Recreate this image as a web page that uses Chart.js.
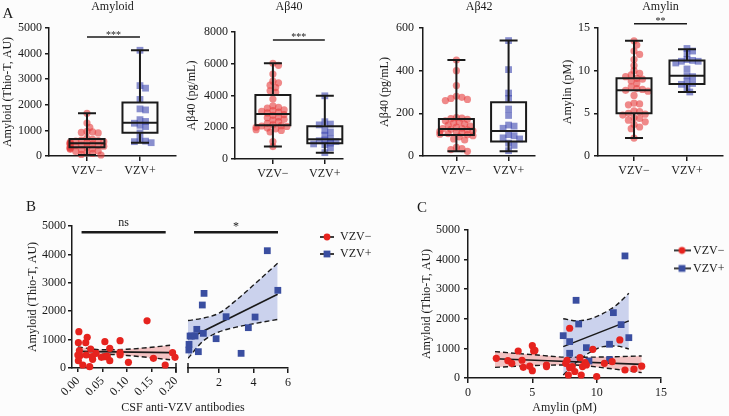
<!DOCTYPE html>
<html>
<head>
<meta charset="utf-8">
<title>VZV amyloid figure</title>
<script src="https://cdn.jsdelivr.net/npm/chart.js@4.4.1/dist/chart.umd.min.js"></script>
<style>
  body { margin: 0; background: #fcfcfc; }
  #fig { position: relative; width: 729px; height: 416px; overflow: hidden; }
  #fig canvas { position: absolute; }
</style>
</head>
<body>
<div id="fig">
  <canvas id="a1" width="182" height="190" style="left:0;top:0"></canvas>
  <canvas id="a2" width="178" height="190" style="left:182px;top:0"></canvas>
  <canvas id="a3" width="180" height="190" style="left:360px;top:0"></canvas>
  <canvas id="a4" width="189" height="190" style="left:540px;top:0"></canvas>
  <canvas id="bLeft" width="300" height="221" style="left:0;top:195px"></canvas>
  <canvas id="bRight" width="193" height="221" style="left:182px;top:195px"></canvas>
  <canvas id="c" width="329" height="221" style="left:400px;top:195px"></canvas>
</div>
<script>
const groups = ['VZV−', 'VZV+'];

// --- Panel A: individual values
const amyloidNeg = [1670, 1290, 1120, 960, 940, 920, 900, 700, 650, 620, 600, 580, 560, 540, 520, 500, 480, 470, 450, 430, 410, 400, 380, 360, 340, 320, 300, 280, 260, 240, 200, 180, 130, 100, 60, 40];
const amyloidPos = [4130, 2750, 2650, 2210, 1840, 1800, 1420, 1350, 1280, 1200, 1150, 900, 640, 580, 560, 520];
const abeta40Neg = [6030, 5900, 5350, 4900, 4800, 4650, 4500, 4300, 4200, 3780, 3350, 3250, 3200, 3100, 3050, 3000, 2950, 2900, 2800, 2750, 2650, 2600, 2500, 2450, 2350, 2250, 2150, 2100, 2080, 2050, 2000, 1950, 1900, 1850, 1800, 1700, 1100, 780];
const abeta40Pos = [3980, 2350, 2200, 2150, 1800, 1700, 1500, 1300, 1200, 1150, 1100, 1000, 950, 900, 700, 400];
const abeta42Neg = [450, 400, 330, 280, 275, 270, 265, 260, 180, 178, 175, 172, 165, 160, 155, 150, 145, 140, 135, 130, 128, 125, 122, 118, 115, 110, 108, 105, 102, 100, 95, 90, 80, 75, 40, 35, 30, 22];
const abeta42Pos = [541, 405, 295, 270, 220, 190, 145, 140, 130, 100, 95, 85, 80, 60, 50, 25];
const amylinNeg = [13.5, 13.0, 12.3, 11.9, 11.3, 10.6, 10.0, 9.7, 9.5, 9.3, 9.1, 9.0, 8.8, 8.5, 8.1, 7.9, 7.8, 7.7, 7.6, 7.1, 6.2, 6.1, 6.0, 5.3, 5.2, 5.0, 4.9, 4.8, 4.5, 4.4, 4.2, 4.0, 3.7, 3.4, 3.2, 2.1];
const amylinPos = [12.6, 12.3, 12.0, 11.3, 11.2, 11.1, 11.1, 10.9, 10.2, 9.4, 9.3, 8.7, 8.5, 8.4, 8.0, 7.5];

// box summaries: min, q1, median, q3, max
const amyloidBoxNeg = [40, 340, 495, 660, 1670];
const amyloidBoxPos = [520, 910, 1300, 2090, 4130];
const abeta40BoxNeg = [780, 2120, 2830, 4030, 6030];
const abeta40BoxPos = [400, 990, 1240, 2060, 3980];
const abeta42BoxNeg = [22, 98, 127, 173, 450];
const abeta42BoxPos = [22, 68, 117, 252, 541];
const amylinBoxNeg = [2.1, 5.0, 7.7, 9.1, 13.5];
const amylinBoxPos = [7.5, 8.45, 9.4, 11.2, 12.5];

const sigALevels = [4650, 7500, null, 15.5];
const sigAMarks = ['***', '***', null, '**'];

// --- Panel B: CSF anti-VZV antibodies vs amyloid
const bTicksLeft = [0, 0.05, 0.10, 0.15, 0.20];
const bTicksRight = [2, 4, 6];
const bNegX = [0.001, 0.002, 0.000, 0.003, 0.004, 0.001, 0.010, 0.016, 0.019, 0.017, 0.026, 0.024, 0.030, 0.029, 0.037, 0.048, 0.055, 0.055, 0.060, 0.065, 0.065, 0.086, 0.086, 0.086, 0.103, 0.141, 0.154, 0.178, 0.193, 0.198];
const bNegY = [891, 1278, 458, 610, 435, 258, 105, 891, 1080, 458, 669, 47, 305, 400, 516, 376, 927, 400, 422, 692, 258, 962, 540, 458, 200, 1660, 340, 105, 540, 376];
const bPosX = [0.25, 0.26, 0.32, 0.40, 0.61, 0.71, 0.80, 1.03, 1.09, 1.13, 1.83, 2.41, 3.28, 3.70, 4.09, 4.80, 5.41];
const bPosY = [634, 834, 1126, 1126, 1126, 1361, 575, 2218, 1220, 2628, 1032, 1806, 516, 1420, 1795, 4130, 2735];
const bNegFitX = [0, 0.188];
const bNegFitY = [585, 540];
const bNegBandX = [0, 0.05, 0.10, 0.15, 0.188];
const bNegUpper = [740, 640, 660, 730, 800];
const bNegLower = [420, 490, 440, 360, 290];
const bPosFitX = [0.2, 5.4];
const bPosFitY = [1030, 2600];
const bPosBandX = [0.2, 1.1, 2.0, 3.0, 4.2, 5.4];
const bPosUpper = [1670, 1760, 1930, 2390, 3030, 3690];
const bPosLower = [340, 960, 1270, 1440, 1580, 1710];
const sigBLevel = 4780;
const sigBMarks = ['ns', '*'];
const sigBSpanLeft = [0.0075, 0.179];
const sigBSpanRight = [0.55, 5.42];

// --- Panel C: amylin vs amyloid
const cNegX = [2.2, 3.1, 3.4, 3.9, 4.2, 4.3, 4.8, 5.0, 5.0, 5.1, 5.2, 6.1, 6.1, 7.6, 7.7, 7.8, 7.9, 7.9, 8.1, 8.3, 8.7, 8.8, 8.9, 9.1, 9.2, 9.7, 10.0, 10.6, 11.2, 11.8, 12.2, 12.9, 13.5];
const cNegY = [665, 585, 496, 913, 600, 360, 400, 248, 1093, 913, 930, 440, 385, 496, 600, 101, 350, 1680, 385, 220, 687, 101, 385, 520, 440, 970, 50, 496, 550, 1285, 270, 300, 400];
const cPosX = [7.4, 7.9, 7.9, 8.4, 8.6, 9.2, 9.4, 11.0, 11.0, 11.3, 11.9, 12.2, 12.5];
const cPosY = [1430, 1230, 835, 2625, 1825, 1025, 574, 1140, 620, 2208, 1803, 4124, 1363];
const cNegFitX = [2.1, 13.5];
const cNegFitY = [650, 460];
const cNegBandX = [2.1, 5, 8, 11, 13.5];
const cNegUpper = [890, 790, 700, 715, 745];
const cNegLower = [360, 420, 440, 320, 180];
const cPosFitX = [7.4, 12.5];
const cPosFitY = [1060, 1930];
const cPosBandX = [7.4, 8.5, 9.5, 10.5, 11.5, 12.5];
const cPosUpper = [2000, 1930, 2000, 2180, 2450, 2860];
const cPosLower = [100, 560, 870, 1060, 1080, 980];

// --- styles
const INK = '#1a1a1a';
const FONT = "'Liberation Serif', 'Times New Roman', serif";
const RED_A = 'rgba(230, 60, 60, 0.6)';
const BLUE_A = 'rgba(60, 70, 175, 0.6)';
const RED = 'rgb(230, 35, 30)';
const BLUE = 'rgb(58, 78, 160)';
const RED_BAND = 'rgba(228, 100, 100, 0.38)';
const BLUE_BAND = 'rgba(100, 120, 205, 0.32)';

Chart.defaults.font.family = FONT;
Chart.defaults.font.size = 12;
Chart.defaults.color = INK;
Chart.defaults.animation = false;
Chart.defaults.plugins.legend.display = false;
Chart.defaults.plugins.tooltip.enabled = false;

const xy = (xs, ys) => xs.map((x, i) => ({ x: x, y: ys[i] }));

// spread the dots of a group sideways so they don't sit on each other
function swarm(values, center, pxPerY, pxPerX) {
  const placed = [];
  return values.map(v => {
    const py = v * pxPerY;
    let off = 0;
    for (let k = 0; k < 13; k++) {
      const cand = (k % 2 ? 1 : -1) * Math.ceil(k / 2) * 2.8;
      off = cand;
      if (placed.every(p => Math.hypot(p[0] - cand, p[1] - py) > 4.6)) break;
    }
    placed.push([off, py]);
    return { x: center + off / pxPerX, y: v };
  });
}

function legendIcon(w, color, shape) {
  const c = document.createElement('canvas');
  c.width = w; c.height = 10;
  const g = c.getContext('2d');
  g.strokeStyle = INK; g.lineWidth = 1.7;
  g.beginPath(); g.moveTo(0, 5); g.lineTo(w, 5); g.stroke();
  g.fillStyle = color;
  if (shape === 'circle') { g.beginPath(); g.arc(w / 2, 5, 3.4, 0, Math.PI * 2); g.fill(); }
  else g.fillRect(w / 2 - 3.4, 1.6, 6.8, 6.8);
  return c;
}

function legendLabels(iconW) {
  return () => groups.map((g, i) => ({
    text: g,
    pointStyle: legendIcon(iconW, i === 0 ? RED : BLUE, i === 0 ? 'circle' : 'square'),
    fillStyle: 'transparent', strokeStyle: 'transparent', lineWidth: 0,
    hidden: false, datasetIndex: i, fontColor: INK
  }));
}

// boxes, significance bars, axis breaks and free labels
function overlay(cfg) {
  return {
    id: 'overlay',
    afterDatasetsDraw(chart) {
      const { ctx, scales: { x, y } } = chart;
      ctx.save();
      ctx.strokeStyle = INK;
      ctx.lineWidth = 2;
      (cfg.boxes || []).forEach(b => {
        const cx = x.getPixelForValue(b.at);
        const [lo, q1, md, q3, hi] = b.stats.map(v => y.getPixelForValue(v));
        ctx.beginPath();
        ctx.moveTo(cx, hi); ctx.lineTo(cx, q3);
        ctx.moveTo(cx, q1); ctx.lineTo(cx, lo);
        ctx.moveTo(cx - 9, hi); ctx.lineTo(cx + 9, hi);
        ctx.moveTo(cx - 9, lo); ctx.lineTo(cx + 9, lo);
        ctx.moveTo(cx - 17.5, md); ctx.lineTo(cx + 17.5, md);
        ctx.rect(cx - 17.5, q3, 35, q1 - q3);
        ctx.stroke();
      });
      ctx.restore();
    },
    afterDraw(chart) {
      const { ctx, scales: { x, y } } = chart;
      ctx.save();
      ctx.strokeStyle = INK;
      ctx.fillStyle = INK;
      (cfg.sig || []).forEach(s => {
        const py = y.getPixelForValue(s.y);
        const x1 = x.getPixelForValue(s.x1), x2 = x.getPixelForValue(s.x2);
        ctx.lineWidth = s.lw || 1.5;
        ctx.beginPath(); ctx.moveTo(x1, py); ctx.lineTo(x2, py); ctx.stroke();
        ctx.font = s.font || '10px ' + FONT;
        ctx.textAlign = 'center';
        ctx.textBaseline = 'alphabetic';
        ctx.fillText(s.text, (x1 + x2) / 2, py + (s.dy || 0));
      });
      (cfg.breaks || []).forEach(v => {
        const px = x.getPixelForValue(v);
        ctx.lineWidth = 1.5;
        ctx.beginPath(); ctx.moveTo(px, y.bottom - 5); ctx.lineTo(px, y.bottom + 5); ctx.stroke();
      });
      (cfg.labels || []).forEach(t => {
        ctx.font = t.font || '15px ' + FONT;
        ctx.textAlign = 'center';
        ctx.textBaseline = 'middle';
        ctx.fillText(t.text, t.x, t.y);
      });
      ctx.restore();
    }
  };
}

function valueAxis(o) {
  return {
    type: 'linear', position: 'left', min: 0, max: o.max,
    afterFit: s => { s.width = o.width; },
    border: { display: true, color: INK, width: 1.5 },
    grid: { drawOnChartArea: false, color: INK, lineWidth: 1.5, tickLength: 4 },
    ticks: { stepSize: o.step, padding: o.tickPad, color: INK, callback: v => String(v) },
    title: { display: true, text: o.title, color: INK, padding: { top: o.titlePad, bottom: 0 } }
  };
}

function bottomAxis(o) {
  return {
    type: 'linear', min: o.min, max: o.max,
    afterBuildTicks: s => { s.ticks = o.ticks.map(v => ({ value: v })); },
    afterFit: s => { s.height = o.height; },
    border: { display: true, color: INK, width: 1.5 },
    grid: { drawOnChartArea: false, color: INK, lineWidth: 1.5, tickLength: o.tickLength || 5 },
    ticks: { callback: o.label, padding: o.pad || 3, autoSkip: false, minRotation: o.rot || 0, maxRotation: o.rot || 0, color: INK },
    title: o.title ? { display: true, text: o.title, color: INK, padding: 0 } : { display: false }
  };
}

function curve(xs, ys, extra) {
  return Object.assign({
    type: 'line', data: xy(xs, ys),
    borderColor: INK, borderWidth: 1.4, borderDash: [5, 3], pointRadius: 0, fill: false,
    cubicInterpolationMode: 'monotone', order: 2
  }, extra);
}

// ---------- Panel A
const H_A = 190;
const panelA = [
  { id: 'a1', title: 'Amyloid', yTitle: 'Amyloid (Thio-T, AU)', neg: amyloidNeg, pos: amyloidPos, boxNeg: amyloidBoxNeg, boxPos: amyloidBoxPos, yMax: 5000, yStep: 1000, sigDy: 1,
    geo: { W: 182, yW: 49, padR: 6, top: 28, xH: 34, xMin: 0.283, xMax: 2.68, titlePad: 1, tickPad: 3 } },
  { id: 'a2', title: 'Aβ40', yTitle: 'Aβ40 (pg/mL)', neg: abeta40Neg, pos: abeta40Pos, boxNeg: abeta40BoxNeg, boxPos: abeta40BoxPos, yMax: 8000, yStep: 2000, sigDy: 0,
    geo: { W: 178, yW: 53, padR: 17, top: 32, xH: 31, xMin: 0.27, xMax: 2.35, titlePad: 2.5, tickPad: 3 } },
  { id: 'a3', title: 'Aβ42', yTitle: 'Aβ40 (pg/mL)', neg: abeta42Neg, pos: abeta42Pos, boxNeg: abeta42BoxNeg, boxPos: abeta42BoxPos, yMax: 600, yStep: 200, sigDy: 0,
    geo: { W: 180, yW: 63, padR: 3, top: 28, xH: 34, xMin: 0.36, xMax: 2.51, titlePad: 18, tickPad: 5 } },
  { id: 'a4', title: 'Amylin', yTitle: 'Amylin (pM)', neg: amylinNeg, pos: amylinPos, boxNeg: amylinBoxNeg, boxPos: amylinBoxPos, yMax: 15, yStep: 5, sigDy: 0,
    geo: { W: 189, yW: 58, padR: 6, top: 28, xH: 34, xMin: 0.32, xMax: 2.68, titlePad: 21, tickPad: 4 } }
];

panelA.forEach((p, i) => {
  const g = p.geo;
  const pxY = (H_A - g.top - g.xH) / p.yMax;
  const pxX = (g.W - g.padR - g.yW) / (g.xMax - g.xMin);
  const sig = sigALevels[i] === null ? [] : [{ x1: 1, x2: 2, y: sigALevels[i], text: sigAMarks[i], dy: p.sigDy }];
  new Chart(document.getElementById(p.id), {
    type: 'scatter',
    data: {
      datasets: [
        { data: swarm(p.neg, 1, pxY, pxX), pointStyle: 'circle', pointRadius: 3.6, backgroundColor: RED_A, borderWidth: 0, clip: false },
        { data: swarm(p.pos, 2, pxY, pxX), pointStyle: 'rect', pointRadius: 4.8, backgroundColor: BLUE_A, borderWidth: 0, clip: false }
      ]
    },
    options: {
      responsive: false, devicePixelRatio: 1, events: [],
      layout: { padding: { left: 0, top: 0, right: g.padR, bottom: 0 } },
      scales: {
        x: bottomAxis({ min: g.xMin, max: g.xMax, ticks: groups.map((_, k) => k + 1), label: v => groups[v - 1], height: g.xH }),
        y: valueAxis({ max: p.yMax, step: p.yStep, title: p.yTitle, width: g.yW, titlePad: g.titlePad, tickPad: g.tickPad })
      },
      plugins: {
        title: { display: true, text: p.title, fullSize: false, color: INK, font: { size: 12, weight: 'normal' }, padding: { top: 0, bottom: g.top - 14.4 } }
      }
    },
    plugins: [overlay({
      boxes: [{ at: 1, stats: p.boxNeg }, { at: 2, stats: p.boxPos }],
      sig: sig,
      labels: i === 0 ? [{ text: 'A', x: 8, y: 14 }] : []
    })]
  });
});

// ---------- Panel B (split x axis: two charts side by side)
new Chart(document.getElementById('bLeft'), {
  type: 'scatter',
  data: {
    datasets: [
      { data: xy(bNegX, bNegY), pointStyle: 'circle', pointRadius: 3.6, backgroundColor: RED, borderWidth: 0, clip: false, order: 0 },
      curve(bNegBandX, bNegLower),
      curve(bNegBandX, bNegUpper, { fill: '-1', backgroundColor: RED_BAND }),
      curve(bNegFitX, bNegFitY, { borderDash: [], borderWidth: 1.6, order: 1 })
    ]
  },
  options: {
    responsive: false, devicePixelRatio: 1, events: [],
    layout: { padding: { left: 0, top: 31, right: 124, bottom: 0 } },
    scales: {
      x: bottomAxis({ min: -0.012, max: 0.2, ticks: bTicksLeft, label: v => v.toFixed(2), height: 48, rot: 45, pad: 2, tickLength: 4 }),
      y: valueAxis({ max: 5000, step: 1000, title: 'Amyloid (Thio-T, AU)', width: 72, titlePad: 26, tickPad: 2 })
    }
  },
  plugins: [overlay({
    sig: [{ x1: sigBSpanLeft[0], x2: sigBSpanLeft[1], y: sigBLevel, text: sigBMarks[0], lw: 2.6, font: '12px ' + FONT, dy: -6 }],
    breaks: [0.2],
    labels: [
      { text: 'B', x: 31, y: 12 },
      { text: 'CSF anti-VZV antibodies', x: 183, y: 213, font: '12px ' + FONT }
    ]
  })]
});

new Chart(document.getElementById('bRight'), {
  type: 'scatter',
  data: {
    datasets: [
      { data: xy(bPosX, bPosY), pointStyle: 'rect', pointRadius: 4.8, backgroundColor: BLUE, borderWidth: 0, clip: false, order: 0 },
      curve(bPosBandX, bPosLower),
      curve(bPosBandX, bPosUpper, { fill: '-1', backgroundColor: BLUE_BAND }),
      curve(bPosFitX, bPosFitY, { borderDash: [], borderWidth: 1.6, order: 1 })
    ]
  },
  options: {
    responsive: false, devicePixelRatio: 1, events: [],
    layout: { padding: { left: 6, top: 31, right: 0, bottom: 0 } },
    scales: {
      x: bottomAxis({ min: 0.2, max: 6, ticks: bTicksRight, label: v => String(v), height: 48 }),
      y: {
        type: 'linear', position: 'right', min: 0, max: 5000,
        afterFit: s => { s.width = 27; },
        border: { display: false }, grid: { display: false }, ticks: { display: false }
      }
    },
    plugins: {
      legend: {
        display: true, position: 'right', align: 'start', maxWidth: 60,
        labels: { usePointStyle: true, pointStyleWidth: 14, padding: 5, color: INK, font: { size: 12 }, generateLabels: legendLabels(14) }
      }
    }
  },
  plugins: [overlay({
    sig: [{ x1: sigBSpanRight[0], x2: sigBSpanRight[1], y: sigBLevel, text: sigBMarks[1], lw: 2.6, font: '12px ' + FONT, dy: -2 }],
    breaks: [0.2]
  })]
});

// ---------- Panel C
new Chart(document.getElementById('c'), {
  type: 'scatter',
  data: {
    datasets: [
      { data: xy(cNegX, cNegY), pointStyle: 'circle', pointRadius: 3.6, backgroundColor: RED, borderWidth: 0, clip: false, order: 0 },
      { data: xy(cPosX, cPosY), pointStyle: 'rect', pointRadius: 4.8, backgroundColor: BLUE, borderWidth: 0, clip: false, order: 0 },
      curve(cPosBandX, cPosLower),
      curve(cPosBandX, cPosUpper, { fill: '-1', backgroundColor: BLUE_BAND }),
      curve(cPosFitX, cPosFitY, { borderDash: [], borderWidth: 1.6, order: 1 }),
      curve(cNegBandX, cNegLower),
      curve(cNegBandX, cNegUpper, { fill: '-1', backgroundColor: RED_BAND }),
      curve(cNegFitX, cNegFitY, { borderDash: [], borderWidth: 1.6, order: 1 })
    ]
  },
  options: {
    responsive: false, devicePixelRatio: 1, events: [],
    layout: { padding: { left: 0, top: 35, right: 0, bottom: 1 } },
    scales: {
      x: bottomAxis({ min: 0, max: 15, ticks: [0, 5, 10, 15], label: v => String(v), height: 37, title: 'Amylin (pM)' }),
      y: valueAxis({ max: 5000, step: 1000, title: 'Amyloid (Thio-T, AU)', width: 68, titlePad: 20, tickPad: 4 }),
      yGap: {
        type: 'linear', position: 'right', min: 0, max: 1,
        afterFit: s => { s.width = 10; },
        border: { display: false }, grid: { display: false }, ticks: { display: false }
      }
    },
    plugins: {
      legend: {
        display: true, position: 'right', align: 'start', maxWidth: 58,
        title: { display: true, text: '', padding: 0, font: { size: 7 } },
        labels: { usePointStyle: true, pointStyleWidth: 10, padding: 6, color: INK, font: { size: 12 }, generateLabels: legendLabels(17) }
      }
    }
  },
  plugins: [overlay({ labels: [{ text: 'C', x: 22, y: 13.5 }] })]
});
</script>
</body>
</html>
